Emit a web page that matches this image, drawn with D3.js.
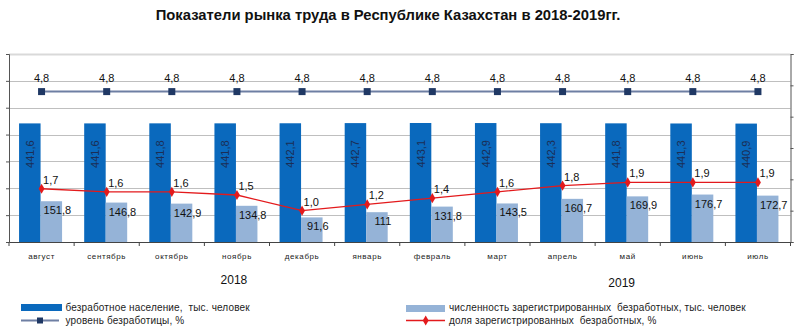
<!DOCTYPE html>
<html><head><meta charset="utf-8">
<script src="https://cdn.jsdelivr.net/npm/d3@7"></script>
<style>body{margin:0;background:#fff}svg{display:block}text{font-family:"Liberation Sans",Arial,sans-serif}</style>
</head><body>
<svg id="c" width="800" height="331"></svg>
<script>
const categories = ["август","сентябрь","октябрь","ноябрь","декабрь","январь","февраль","март","апрель","май","июнь","июль"];
const unemployed = [441.6,441.6,441.8,441.8,442.1,442.7,443.1,442.9,442.3,441.8,441.3,440.9];
const registered = [151.8,146.8,142.9,134.8,91.6,111,131.8,143.5,160.7,169.9,176.7,172.7];
const unempRate = [4.8,4.8,4.8,4.8,4.8,4.8,4.8,4.8,4.8,4.8,4.8,4.8];
const regShare = [1.7,1.6,1.6,1.5,1.0,1.2,1.4,1.6,1.8,1.9,1.9,1.9];
const leftTicks = [0,100,200,300,400,500,600,700];
const rightTicks = [0,1,2,3,4,5,6];
const years = [{label:"2018", cat:"ноябрь"},{label:"2019", cat:"май"}];
const legendItems = ["безработное население,  тыс. человек","уровень безработицы, %","численность зарегистрированных  безработных, тыс. человек","доля зарегистрированных  безработных, %"];
const title = "Показатели рынка труда в Республике Казахстан в 2018-2019гг.";

const svg = d3.select("#c");
const L = 9, R = 790.5, T = 54, B = 242;
const fmt = v => String(v).replace(".", ",");
const fmt1 = v => v.toFixed(1).replace(".", ",");

const x = d3.scaleBand().domain(categories).range([L, R]).paddingInner(0).paddingOuter(0);
const yL = d3.scaleLinear().domain([0,700]).range([B, T]);
const yR = d3.scaleLinear().domain([0,6]).range([B, T]);

// title
const tt = svg.append("text").attr("x", 388).attr("y", 20).attr("text-anchor","middle")
  .attr("font-weight","bold").attr("font-size",14).attr("fill","#111").text(title);
const tw = tt.node().getComputedTextLength();
tt.attr("font-size", 14*465/tw);

// gridlines
svg.append("g").selectAll("line").data(leftTicks.slice(1)).join("line")
  .attr("x1", L).attr("x2", R).attr("y1", d=>Math.round(yL(d))+0.5).attr("y2", d=>Math.round(yL(d))+0.5)
  .attr("stroke", d=>d===700?"#d9d9d9":"#bfbfbf").attr("stroke-width", d=>d===700?2:1);

// left axis
const axL = svg.append("g").attr("transform",`translate(${L},0)`)
  .call(d3.axisLeft(yL).tickValues(leftTicks).tickSize(3).tickFormat(""));
axL.select(".domain").attr("stroke","#555");
axL.selectAll(".tick line").attr("stroke","#555");
// right axis
const axR = svg.append("g").attr("transform",`translate(${R},0)`)
  .call(d3.axisRight(yR).tickValues(rightTicks).tickSize(3).tickFormat(""));
axR.select(".domain").attr("stroke","#555");
axR.selectAll(".tick line").attr("stroke","#555");

// bars
const bw = 21.5;
const g = svg.append("g");
g.selectAll("rect.u").data(categories).join("rect").attr("class","u")
  .attr("x", (d)=>x(d)+x.bandwidth()/2 - bw - 1).attr("width", bw)
  .attr("y", (d,i)=>yL(unemployed[i])).attr("height", (d,i)=>B - yL(unemployed[i]))
  .attr("fill","#0a69bd");
g.selectAll("rect.r").data(categories).join("rect").attr("class","r")
  .attr("x", (d)=>x(d)+x.bandwidth()/2 - 1).attr("width", bw)
  .attr("y", (d,i)=>yL(registered[i])).attr("height", (d,i)=>B - yL(registered[i]))
  .attr("fill","#95b3d7");

// bottom axis
const axB = svg.append("g").attr("transform",`translate(0,${B})`)
  .call(d3.axisBottom(x).tickSize(0).tickFormat(""));
axB.select(".domain").attr("stroke","#444");
svg.append("g").selectAll("line").data(categories.concat(["_end"])).join("line")
  .attr("x1",(d,i)=>L + i*x.bandwidth()).attr("x2",(d,i)=>L + i*x.bandwidth())
  .attr("y1",B).attr("y2",B+4).attr("stroke","#444");

// category labels
svg.append("g").selectAll("text").data(categories).join("text")
  .attr("x", d=>x(d)+x.bandwidth()/2).attr("y", 258.5).attr("text-anchor","middle")
  .attr("font-size",8).attr("letter-spacing",0.6).attr("fill","#222").text(d=>d);

// year labels
svg.append("g").selectAll("text").data(years).join("text")
  .attr("x", d=>x(d.cat)+x.bandwidth()/2 + (d.label==="2018"?-3:-6)).attr("y", (d,i)=>i===0?284:287)
  .attr("text-anchor","middle").attr("font-size",12).attr("fill","#111").text(d=>d.label);

// bar labels
g.selectAll("text.u").data(categories).join("text").attr("class","u")
  .attr("transform",(d,i)=>`translate(${x(d)+x.bandwidth()/2 - bw/2 - 1 + 4},${yL(unemployed[i])+17}) rotate(-90)`)
  .attr("text-anchor","end").attr("font-size",11).attr("fill","#1b2e55").text((d,i)=>fmt1(unemployed[i]));
g.selectAll("text.r").data(categories).join("text").attr("class","r")
  .attr("x",(d)=>x(d)+x.bandwidth()/2 - 1 + bw/2 + 6).attr("y",(d,i)=>yL(registered[i])+13)
  .attr("text-anchor","middle").attr("font-size",11).attr("fill","#111").text((d,i)=>fmt(registered[i]));

// rate line
const cx = d=>x(d)+x.bandwidth()/2;
svg.append("path").datum(categories).attr("fill","none").attr("stroke","#6e7fa3").attr("stroke-width",2)
  .attr("d", d3.line().x(d=>cx(d)).y((d,i)=>yR(unempRate[i])));
svg.append("g").selectAll("rect").data(categories).join("rect")
  .attr("x", d=>cx(d)-3.5).attr("y",(d,i)=>yR(unempRate[i])-3.5).attr("width",7).attr("height",7).attr("fill","#1f3864");
svg.append("g").selectAll("text").data(categories).join("text")
  .attr("x", d=>cx(d)).attr("y",(d,i)=>yR(unempRate[i])-10).attr("text-anchor","middle")
  .attr("font-size",11).attr("fill","#111").text((d,i)=>fmt1(unempRate[i]));

// share line
svg.append("path").datum(categories).attr("fill","none").attr("stroke","#e31a1c").attr("stroke-width",1.3)
  .attr("d", d3.line().x(d=>cx(d)).y((d,i)=>yR(regShare[i])));
const dia = d3.symbol().type(d3.symbolDiamond).size(30);
svg.append("g").selectAll("path").data(categories).join("path")
  .attr("transform",(d,i)=>`translate(${cx(d)},${yR(regShare[i])})`).attr("d",dia).attr("fill","#e31a1c");
svg.append("g").selectAll("text").data(categories).join("text")
  .attr("x", d=>cx(d)+1.5).attr("y",(d,i)=>yR(regShare[i])-5)
  .attr("font-size",11).attr("fill","#111").text((d,i)=>fmt1(regShare[i]));

// legend
const lg = svg.append("g");
lg.append("rect").attr("x",21).attr("y",304).attr("width",41).attr("height",7).attr("fill","#0a69bd");
lg.append("line").attr("x1",21).attr("x2",59).attr("y1",320.5).attr("y2",320.5).attr("stroke","#6e7fa3").attr("stroke-width",2);
lg.append("rect").attr("x",37).attr("y",317.5).attr("width",6).attr("height",6).attr("fill","#1f3864");
lg.append("rect").attr("x",406).attr("y",305).attr("width",39).attr("height",7).attr("fill","#95b3d7");
lg.append("line").attr("x1",406).attr("x2",445).attr("y1",320.5).attr("y2",320.5).attr("stroke","#e31a1c").attr("stroke-width",1.3);
lg.append("path").attr("transform","translate(425.7,320.5)").attr("d",dia).attr("fill","#e31a1c");
const lpos = [[65.5,311],[65.5,324],[449,311],[449,324]];
legendItems.forEach((t,i)=>{
  lg.append("text").attr("x",lpos[i][0]).attr("y",lpos[i][1]).attr("font-size",10)
    .attr("letter-spacing",0.15).style("white-space","pre").attr("fill","#222").text(t);
});
</script>
</body></html>
